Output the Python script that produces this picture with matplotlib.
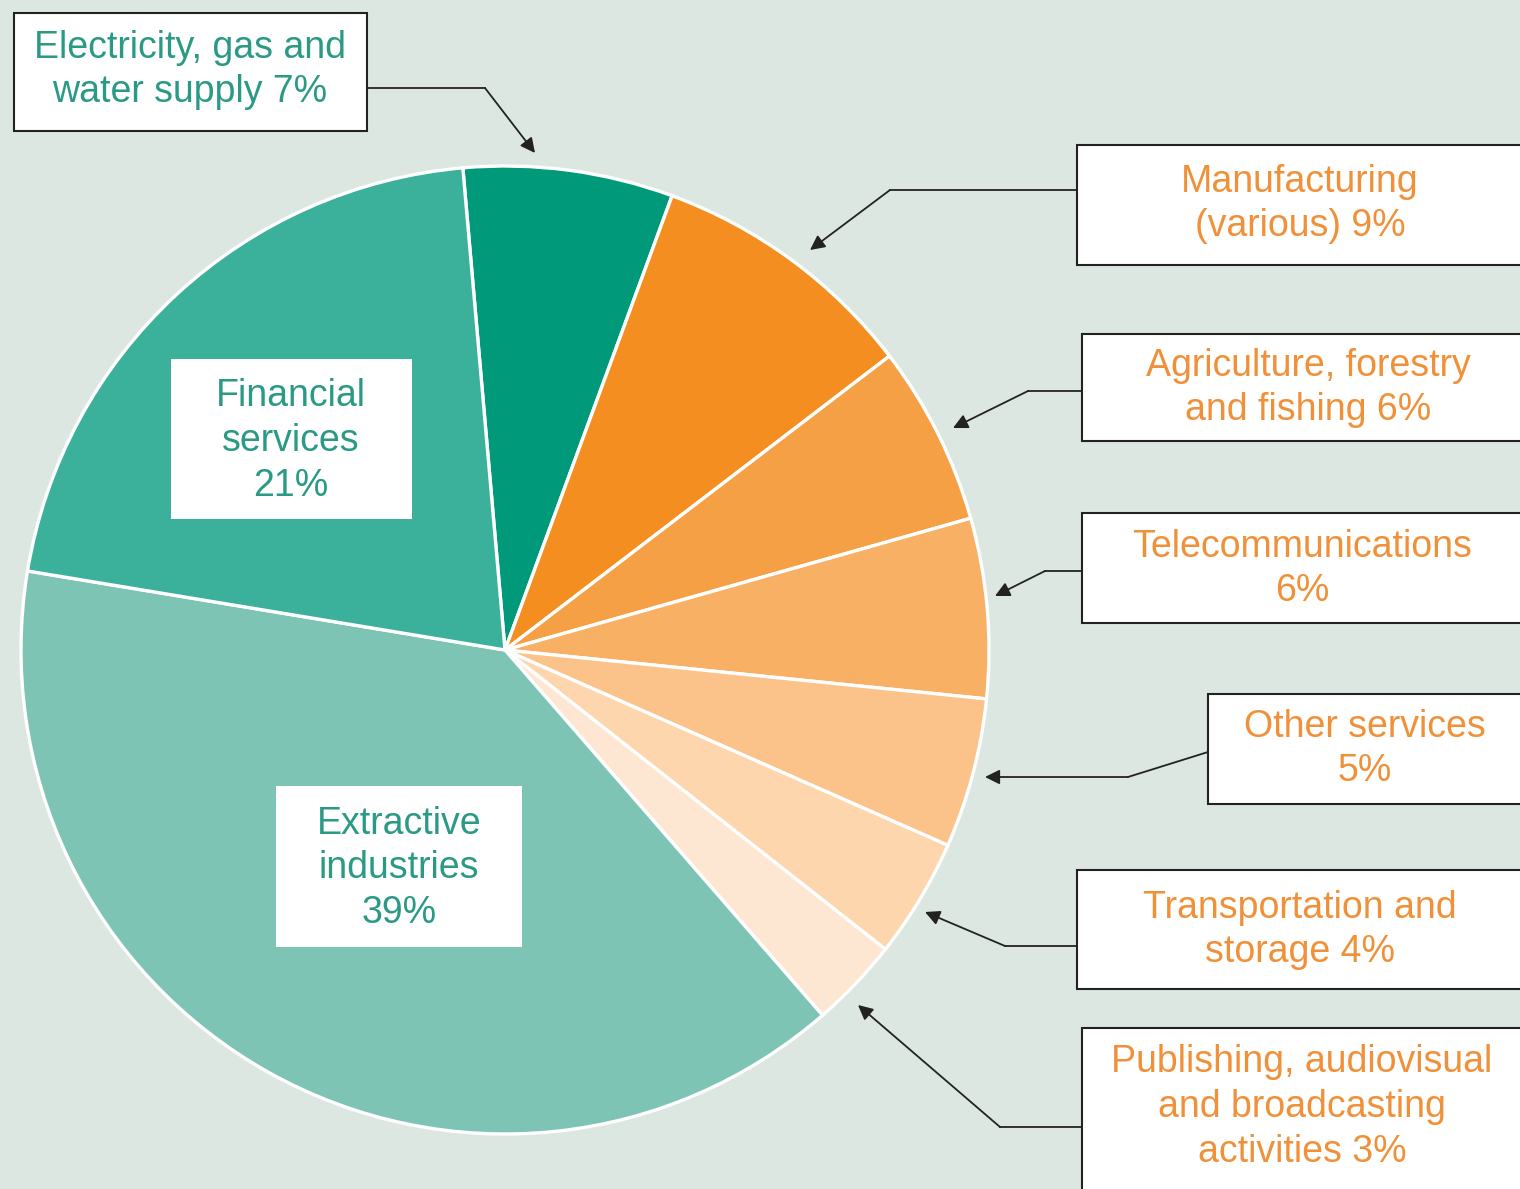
import matplotlib.pyplot as plt
from matplotlib.patches import Rectangle

# shares of each sector, clockwise from the top
sectors = ['Electricity, gas and\nwater supply', 'Manufacturing\n(various)', 'Agriculture, forestry\nand fishing',
           'Telecommunications\n', 'Other services\n', 'Transportation and\nstorage',
           'Publishing, audiovisual\nand broadcasting\nactivities', 'Extractive\nindustries\n', 'Financial\nservices\n']
shares = [7, 9, 6, 6, 5, 4, 3, 39, 21]
colors = ['#009a7b', '#f48e20', '#f6a045', '#f8b064', '#fbc28a', '#fdd6ae', '#fee7d2', '#7dc4b5', '#3bb09a']

TEAL_TXT = '#2b9a85'
ORANGE_TXT = '#f0913a'
BG = '#dce7e2'
FS = 27
LS = 1.32

W, H = 1520, 1189
fig = plt.figure(figsize=(W / 100, H / 100), dpi=100, facecolor=BG)
ax = fig.add_axes([0, 0, 1, 1])
ax.set_facecolor(BG)

cx, cy, r = 505, H - 650, 484
ax.pie(shares, colors=colors, startangle=95, counterclock=False,
       center=(cx, cy), radius=r, frame=False,
       wedgeprops=dict(edgecolor='white', linewidth=2.4))
ax.set_xlim(0, W)
ax.set_ylim(0, H)
ax.set_aspect('equal')
ax.axis('off')

plt.rcParams['font.family'] = ['Liberation Sans', 'DejaVu Sans']


def label_text(i):
    stem = sectors[i]
    if stem.endswith('\n'):
        return f"{stem}{shares[i]}%"
    return f"{stem} {shares[i]}%"


def Y(y):
    return H - y


# boxed callouts: (index, box x0, y0, x1, y1, text x, text y, path points, arrow tip)
callouts = [
    (0, 14, 13, 367, 131, 190, 70, [(367, 88), (485, 88)], (535, 153)),
    (1, 1077, 145, 1535, 265, 1300, 204, [(1077, 190), (890, 190)], (810, 250)),
    (2, 1082, 334, 1535, 441, 1308, 388, [(1082, 391), (1028, 391)], (953, 428)),
    (3, 1082, 513, 1535, 623, 1302, 569, [(1082, 571), (1045, 571)], (995, 596)),
    (4, 1208, 694, 1535, 804, 1365, 749, [(1208, 752), (1128, 777)], (985, 777)),
    (5, 1077, 870, 1535, 989, 1300, 930, [(1077, 946), (1005, 946)], (925, 912)),
    (6, 1082, 1028, 1535, 1200, 1302, 1107, [(1082, 1127), (1000, 1127)], (858, 1005)),
]

for i, x0, y0, x1, y1, tx, ty, path, tip in callouts:
    ax.add_patch(Rectangle((x0, Y(y1)), x1 - x0, y1 - y0, facecolor='white',
                           edgecolor='#222222', linewidth=1.5, zorder=3))
    col = TEAL_TXT if i == 0 else ORANGE_TXT
    ax.text(tx, Y(ty), label_text(i), ha='center', va='center', fontsize=FS,
            color=col, linespacing=LS, zorder=4)
    xs = [p[0] for p in path]
    ys = [Y(p[1]) for p in path]
    ax.plot(xs, ys, color='#222222', lw=1.3, zorder=2)
    ax.annotate('', xy=(tip[0], Y(tip[1])), xytext=(xs[-1], ys[-1]),
                arrowprops=dict(arrowstyle='-|>', color='#222222', lw=1.3,
                                mutation_scale=22, shrinkA=0, shrinkB=0), zorder=2)

# white boxes inside the pie
inner = [(8, 171, 359, 412, 519, 291), (7, 276, 786, 522, 947, 399)]
for i, x0, y0, x1, y1, tx in inner:
    ax.add_patch(Rectangle((x0, Y(y1)), x1 - x0, y1 - y0, facecolor='white',
                           edgecolor='none', zorder=3))
    ax.text(tx, Y((y0 + y1) / 2 + 2), label_text(i), ha='center', va='center',
            fontsize=FS, color=TEAL_TXT, linespacing=LS, zorder=4)

fig.savefig('out.png', dpi=100, facecolor=BG)
